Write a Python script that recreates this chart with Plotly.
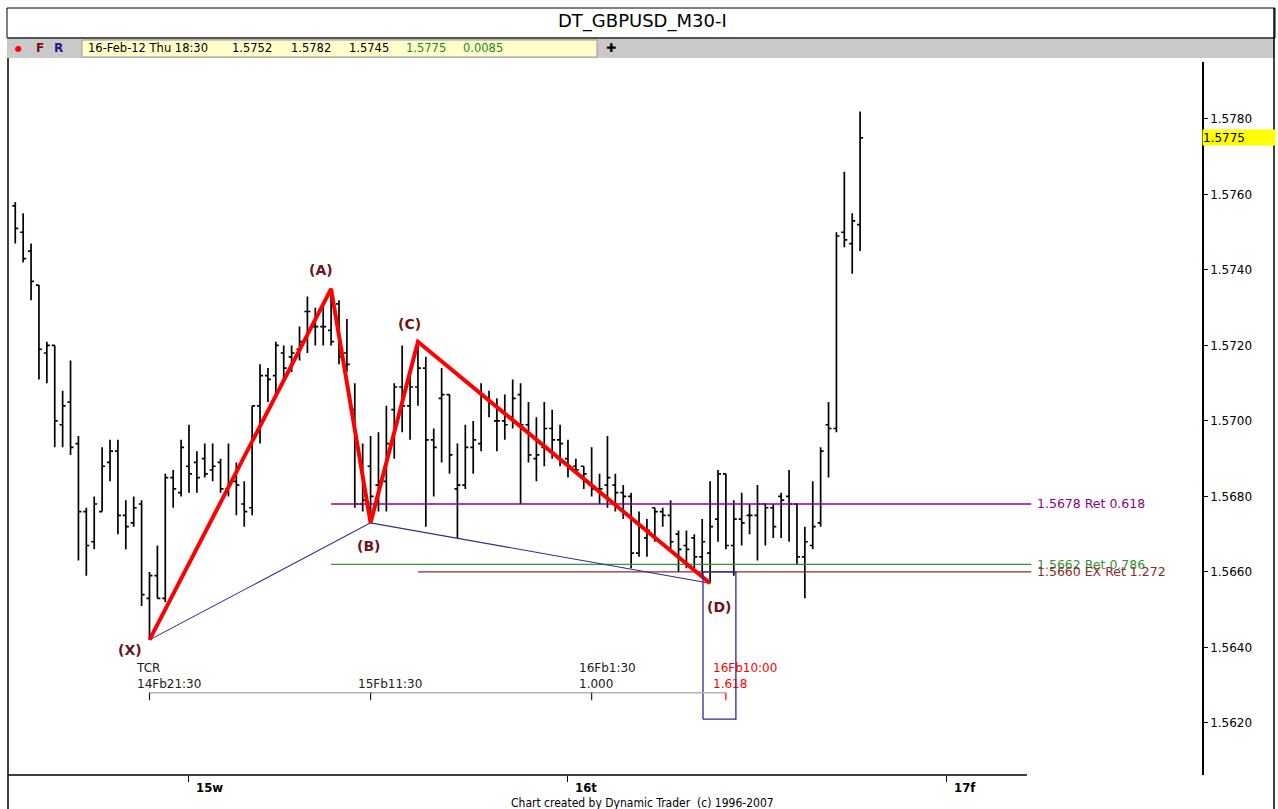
import plotly.graph_objects as go
import pandas as pd

# ---------------- data ----------------
bar_start = "2012-02-14 13:00"   # first 30-minute bar
n_bars = 108
times = pd.date_range(bar_start, periods=n_bars, freq="30min")

opens = [
    1.5757, 1.5750, 1.5745, 1.5736, 1.5718, 1.5720, 1.5699, 1.5705, 1.5694, 1.5676,
    1.5668, 1.5676, 1.5689, 1.5692, 1.5675, 1.5673, 1.5678, 1.5653, 1.5659, 1.5653,
    1.5685, 1.5681, 1.5688, 1.5689, 1.5690, 1.5687, 1.5689, 1.5682, 1.5684, 1.5678,
    1.5677, 1.5704, 1.5712, 1.5712, 1.5718, 1.5717, 1.5719, 1.5729, 1.5725, 1.5725,
    1.5724, 1.5731, 1.5718, 1.5703, 1.5678, 1.5688, 1.5683, 1.5684, 1.5703, 1.5709,
    1.5704, 1.5709, 1.5714, 1.5695, 1.5706, 1.5707, 1.5682, 1.5683, 1.5693, 1.5694,
    1.5706, 1.5700, 1.5700, 1.5701, 1.5707, 1.5699, 1.5690, 1.5693, 1.5698, 1.5695,
    1.5690, 1.5688, 1.5688, 1.5683, 1.5682, 1.5683, 1.5683, 1.5681, 1.5680, 1.5665,
    1.5669, 1.5677, 1.5676, 1.5675, 1.5670, 1.5667, 1.5669, 1.5664, 1.5665, 1.5674,
    1.5686, 1.5667, 1.5674, 1.5675, 1.5675, 1.5678, 1.5677, 1.5680, 1.5680, 1.5678,
    1.5664, 1.5667, 1.5673, 1.5699, 1.5698, 1.5750, 1.5747, 1.5752]
highs = [
    1.5758, 1.5755, 1.5747, 1.5736, 1.5721, 1.5720, 1.5708, 1.5716, 1.5696, 1.5677,
    1.5680, 1.5693, 1.5695, 1.5695, 1.5679, 1.5680, 1.5679, 1.5660, 1.5667, 1.5686,
    1.5687, 1.5695, 1.5699, 1.5692, 1.5694, 1.5694, 1.5690, 1.5694, 1.5689, 1.5684,
    1.5704, 1.5715, 1.5714, 1.5721, 1.5720, 1.5720, 1.5725, 1.5733, 1.5730, 1.5731,
    1.5735, 1.5732, 1.5727, 1.5710, 1.5694, 1.5696, 1.5697, 1.5704, 1.5710, 1.5720,
    1.5713, 1.5721, 1.5717, 1.5698, 1.5714, 1.5707, 1.5694, 1.5699, 1.5700, 1.5710,
    1.5708, 1.5706, 1.5707, 1.5711, 1.5710, 1.5705, 1.5701, 1.5705, 1.5703, 1.5699,
    1.5695, 1.5690, 1.5688, 1.5693, 1.5686, 1.5696, 1.5686, 1.5683, 1.5681, 1.5676,
    1.5674, 1.5677, 1.5677, 1.5679, 1.5671, 1.5671, 1.5670, 1.5674, 1.5684, 1.5687,
    1.5686, 1.5679, 1.5681, 1.5678, 1.5683, 1.5678, 1.5678, 1.5681, 1.5687, 1.5678,
    1.5672, 1.5684, 1.5693, 1.5705, 1.5750, 1.5766, 1.5755, 1.5782]
lows = [
    1.5747, 1.5742, 1.5732, 1.5711, 1.5710, 1.5693, 1.5693, 1.5691, 1.5663, 1.5659,
    1.5666, 1.5676, 1.5684, 1.5670, 1.5666, 1.5672, 1.5651, 1.5642, 1.5653, 1.5652,
    1.5677, 1.5680, 1.5681, 1.5681, 1.5685, 1.5684, 1.5681, 1.5680, 1.5675, 1.5672,
    1.5675, 1.5694, 1.5705, 1.5707, 1.5711, 1.5713, 1.5716, 1.5718, 1.5720, 1.5720,
    1.5720, 1.5715, 1.5713, 1.5677, 1.5676, 1.5673, 1.5676, 1.5676, 1.5690, 1.5697,
    1.5695, 1.5704, 1.5672, 1.5680, 1.5689, 1.5686, 1.5669, 1.5682, 1.5686, 1.5692,
    1.5701, 1.5692, 1.5695, 1.5698, 1.5678, 1.5689, 1.5684, 1.5688, 1.5690, 1.5688,
    1.5685, 1.5686, 1.5682, 1.5680, 1.5678, 1.5677, 1.5676, 1.5674, 1.5661, 1.5664,
    1.5664, 1.5668, 1.5672, 1.5666, 1.5660, 1.5661, 1.5661, 1.5659, 1.5657, 1.5668,
    1.5666, 1.5659, 1.5667, 1.5670, 1.5663, 1.5667, 1.5669, 1.5669, 1.5668, 1.5662,
    1.5653, 1.5666, 1.5672, 1.5685, 1.5697, 1.5746, 1.5739, 1.5745]
closes = [
    1.5751, 1.5743, 1.5737, 1.5719, 1.5720, 1.5700, 1.5704, 1.5693, 1.5676, 1.5667,
    1.5678, 1.5688, 1.5692, 1.5675, 1.5672, 1.5677, 1.5654, 1.5659, 1.5653, 1.5685,
    1.5682, 1.5693, 1.5686, 1.5685, 1.5686, 1.5688, 1.5682, 1.5683, 1.5683, 1.5676,
    1.5704, 1.5712, 1.5711, 1.5720, 1.5714, 1.5718, 1.5721, 1.5729, 1.5725, 1.5725,
    1.5721, 1.5717, 1.5715, 1.5678, 1.5679, 1.5680, 1.5684, 1.5694, 1.5709, 1.5704,
    1.5709, 1.5714, 1.5695, 1.5693, 1.5707, 1.5691, 1.5683, 1.5693, 1.5695, 1.5707,
    1.5705, 1.5700, 1.5699, 1.5706, 1.5699, 1.5691, 1.5691, 1.5698, 1.5695, 1.5694,
    1.5688, 1.5687, 1.5686, 1.5682, 1.5682, 1.5685, 1.5681, 1.5680, 1.5665, 1.5672,
    1.5671, 1.5676, 1.5675, 1.5668, 1.5666, 1.5666, 1.5664, 1.5668, 1.5672, 1.5686,
    1.5667, 1.5674, 1.5673, 1.5675, 1.5678, 1.5677, 1.5672, 1.5679, 1.5678, 1.5664,
    1.5668, 1.5672, 1.5692, 1.5698, 1.5749, 1.5748, 1.5753, 1.5775]

# harmonic pattern pivots
pivot_names = ["(X)", "(A)", "(B)", "(C)", "(D)"]
pivot_times = ["2012-02-14 21:30", "2012-02-15 09:00", "2012-02-15 11:30",
               "2012-02-15 14:30", "2012-02-16 09:00"]
pivot_prices = [1.5642, 1.5735, 1.5673, 1.5721, 1.5657]

# fibonacci price levels
fib_prices = [1.5678, 1.5662, 1.5660]
fib_texts = ["1.5678 Ret 0.618", "1.5662 Ret 0.786", "1.5660 EX Ret 1.272"]
fib_colors = ["#8b008b", "#3a8f3a", "#8b2a2a"]
fib_starts = ["2012-02-15 09:00", "2012-02-15 09:00", "2012-02-15 14:30"]
fib_end = "2012-02-17 05:20"

# time-cycle projection
tc_times = ["2012-02-14 21:30", "2012-02-15 11:30", "2012-02-16 01:30", "2012-02-16 10:00"]
tc_top = ["TCR", "", "16Fb1:30", "16Fb10:00"]
tc_bottom = ["14Fb21:30", "15Fb11:30", "1.000", "1.618"]
tc_colors = ["#202020", "#202020", "#202020", "#ff0000"]
tc_price = 1.5628
tc_tick_price = 1.5626

# D time box
dbox_times = ["2012-02-16 08:33", "2012-02-16 10:38"]
dbox_prices = [1.5621, 1.5660]

day_ticks = ["2012-02-15", "2012-02-16", "2012-02-17"]
day_labels = ["15w", "16t", "17f"]
y_ticks = [1.5620, 1.5640, 1.5660, 1.5680, 1.5700, 1.5720, 1.5740, 1.5760, 1.5780]
last_price = 1.5775

header_values = ["16-Feb-12 Thu 18:30", "1.5752", "1.5782", "1.5745", "1.5775", "0.0085"]

# ---------------- layout helpers (pixel -> paper) ----------------
W, H = 1278, 809
PL, PR, PT, PB = 10, 1202, 62, 775


def xp(px):
    return (px - PL) / (PR - PL)


def yp(py):
    return (PB - py) / (PB - PT)


FONT = "DejaVu Sans"

fig = go.Figure()

fig.add_trace(go.Ohlc(
    x=times, open=opens, high=highs, low=lows, close=closes,
    increasing=dict(line=dict(color="black", width=1.7)),
    decreasing=dict(line=dict(color="black", width=1.7)),
    tickwidth=0.38, hoverinfo="skip", showlegend=False))

# fib levels
for p, c, s in zip(fib_prices, fib_colors, fib_starts):
    fig.add_trace(go.Scatter(x=[s, fib_end], y=[p, p], mode="lines",
                             line=dict(color=c, width=1.3),
                             hoverinfo="skip", showlegend=False))

# blue X-B-D lines
fig.add_trace(go.Scatter(
    x=[pivot_times[0], pivot_times[2], pivot_times[4]],
    y=[pivot_prices[0], pivot_prices[2], pivot_prices[4]],
    mode="lines", line=dict(color="#2b2b8f", width=1.1),
    hoverinfo="skip", showlegend=False))

# red pattern
fig.add_trace(go.Scatter(x=pivot_times, y=pivot_prices, mode="lines",
                         line=dict(color="#ff0000", width=4),
                         hoverinfo="skip", showlegend=False))

# D box
fig.add_trace(go.Scatter(
    x=[dbox_times[0], dbox_times[1], dbox_times[1], dbox_times[0], dbox_times[0]],
    y=[dbox_prices[0], dbox_prices[0], dbox_prices[1], dbox_prices[1], dbox_prices[0]],
    mode="lines", line=dict(color="#2b2b8f", width=1.3),
    hoverinfo="skip", showlegend=False))

# time projection line and ticks
fig.add_trace(go.Scatter(x=[tc_times[0], tc_times[-1]], y=[tc_price, tc_price],
                         mode="lines", line=dict(color="#b4b4b4", width=1.5),
                         hoverinfo="skip", showlegend=False))
for t, c in zip(tc_times, tc_colors):
    fig.add_trace(go.Scatter(x=[t, t], y=[tc_price, tc_tick_price], mode="lines",
                             line=dict(color=c, width=1.2),
                             hoverinfo="skip", showlegend=False))

annotations = []

# pivot labels
label_shift = {"(X)": (-19, -10), "(A)": (-10, 19), "(B)": (-2, -23),
               "(C)": (-8, 18), "(D)": (9, -24)}
for name, t, p in zip(pivot_names, pivot_times, pivot_prices):
    dx, dy = label_shift[name]
    annotations.append(dict(x=t, y=p, xref="x", yref="y", text="<b>%s</b>" % name,
                            showarrow=False, xshift=dx, yshift=dy,
                            xanchor="center", yanchor="middle",
                            font=dict(family=FONT, size=14, color="#6e1414")))

# fib labels
for p, c, txt in zip(fib_prices, fib_colors, fib_texts):
    annotations.append(dict(x=fib_end, y=p, xref="x", yref="y", text=txt,
                            showarrow=False, xanchor="left", yanchor="middle", xshift=4,
                            font=dict(family=FONT, size=12.5, color=c)))

# time projection labels
for t, top, bot, c in zip(tc_times, tc_top, tc_bottom, tc_colors):
    txt = bot if top == "" else top + "<br>" + bot
    annotations.append(dict(x=t, y=tc_price, xref="x", yref="y", text=txt,
                            showarrow=False, xanchor="left", yanchor="bottom",
                            xshift=-15, yshift=0, align="left",
                            font=dict(family=FONT, size=12, color=c)))

# day labels under x axis
for t, lab in zip(day_ticks, day_labels):
    annotations.append(dict(x=t, y=yp(788), xref="x", yref="paper",
                            text="<b>%s</b>" % lab, showarrow=False,
                            xanchor="left", yanchor="middle", xshift=5,
                            font=dict(family="DejaVu Sans Condensed, DejaVu Sans", size=13,
                                      color="black")))

# last price label
annotations.append(dict(x=1, y=last_price, xref="paper", yref="y",
                        text="%.4f" % last_price, showarrow=False,
                        xanchor="left", yanchor="middle", align="left", xshift=0,
                        width=72, height=15, bgcolor="#ffff00", borderpad=0,
                        font=dict(family=FONT, size=12, color="black")))

# title
annotations.append(dict(x=xp(642), y=yp(21), xref="paper", yref="paper",
                        text="DT_GBPUSD_M30-I", showarrow=False,
                        xanchor="center", yanchor="middle",
                        font=dict(family=FONT, size=18, color="black")))

# header strip
annotations.append(dict(x=xp(18), y=yp(48), xref="paper", yref="paper", text="●",
                        showarrow=False, xanchor="center", yanchor="middle",
                        font=dict(family=FONT, size=8, color="#ff0000")))
annotations.append(dict(x=xp(40), y=yp(48), xref="paper", yref="paper", text="<b>F</b>",
                        showarrow=False, xanchor="center", yanchor="middle",
                        font=dict(family=FONT, size=12, color="#7a0a0a")))
annotations.append(dict(x=xp(58), y=yp(48), xref="paper", yref="paper", text="<b>R</b>",
                        showarrow=False, xanchor="center", yanchor="middle",
                        font=dict(family=FONT, size=12, color="#1a1a8a")))
hdr_x = [86, 230, 289, 347, 404, 461]
hdr_col = ["black", "black", "black", "black", "#1f8a1f", "#1f8a1f"]
for v, x, c in zip(header_values, hdr_x, hdr_col):
    annotations.append(dict(x=xp(x), y=yp(48.5), xref="paper", yref="paper", text=v,
                            showarrow=False, xanchor="left", yanchor="middle",
                            font=dict(family=FONT, size=11.5, color=c)))
annotations.append(dict(x=xp(611), y=yp(48), xref="paper", yref="paper", text="<b>✚</b>",
                        showarrow=False, xanchor="center", yanchor="middle",
                        font=dict(family=FONT, size=12, color="black")))

# footer
annotations.append(dict(x=xp(642), y=yp(803), xref="paper", yref="paper",
                        text="Chart created by Dynamic Trader  (c) 1996-2007",
                        showarrow=False, xanchor="center", yanchor="middle",
                        font=dict(family="DejaVu Sans Condensed, DejaVu Sans", size=12,
                                  color="black")))

shapes = [
    # title box
    dict(type="rect", xref="paper", yref="paper", x0=xp(7), x1=xp(1275), y0=yp(38), y1=yp(8),
         line=dict(color="black", width=1), fillcolor="white", layer="below"),
    # grey strip
    dict(type="rect", xref="paper", yref="paper", x0=xp(7), x1=xp(1275), y0=yp(58), y1=yp(38),
         line=dict(width=0), fillcolor="#c9c9c9", layer="below"),
    dict(type="line", xref="paper", yref="paper", x0=xp(7), x1=xp(1275), y0=yp(38), y1=yp(38),
         line=dict(color="#555555", width=2)),
    # yellow info box
    dict(type="rect", xref="paper", yref="paper", x0=xp(82), x1=xp(597), y0=yp(57), y1=yp(40),
         line=dict(color="#9a9a9a", width=1), fillcolor="#ffffcc", layer="below"),
    # frame borders
    dict(type="line", xref="paper", yref="paper", x0=xp(8), x1=xp(8), y0=yp(809), y1=yp(58),
         line=dict(color="black", width=1.5)),
    dict(type="line", xref="paper", yref="paper", x0=xp(1274), x1=xp(1274), y0=yp(809), y1=yp(8),
         line=dict(color="black", width=1.5)),
    # x axis baseline
    dict(type="line", xref="paper", yref="paper", x0=xp(8), x1=xp(1027), y0=0, y1=0,
         line=dict(color="black", width=1.5)),
]

fig.update_layout(
    width=W, height=H,
    margin=dict(l=PL, r=W - PR, t=PT, b=H - PB, pad=0),
    paper_bgcolor="white", plot_bgcolor="white",
    showlegend=False,
    annotations=annotations,
    shapes=shapes,
    xaxis=dict(type="date", range=["2012-02-14 12:40", "2012-02-17 16:09"],
               showgrid=False, zeroline=False, showline=False,
               tickvals=day_ticks, ticks="outside", ticklen=6, tickcolor="black",
               tickwidth=1, showticklabels=False,
               rangeslider=dict(visible=False), fixedrange=True),
    yaxis=dict(side="right", range=[1.56062, 1.57951],
               showgrid=False, zeroline=False, showline=True, linecolor="black",
               linewidth=1.5, ticks="outside", ticklen=4, tickcolor="black",
               tickvals=y_ticks, tickformat=".4f",
               tickfont=dict(family=FONT, size=12, color="black"),
               fixedrange=True),
)

fig.write_html("out.html", config={"displayModeBar": False},
               post_script="document.body.style.margin='0';document.body.style.overflow='hidden';")
